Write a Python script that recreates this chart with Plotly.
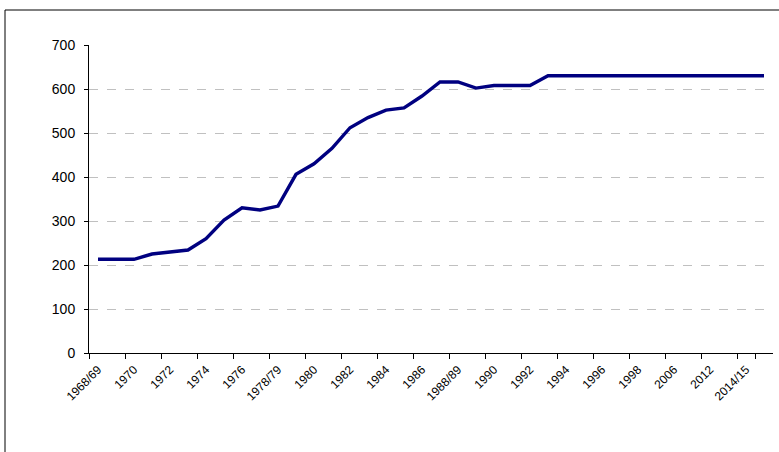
import plotly.graph_objects as go

categories = [
    "1968/69", "1969", "1970", "1971", "1972", "1973", "1974", "1975", "1976", "1977",
    "1978/79", "1979", "1980", "1981", "1982", "1983", "1984", "1985", "1986", "1987",
    "1988/89", "1989", "1990", "1991", "1992", "1993", "1994", "1995", "1996", "1997",
    "1998", "2002", "2006", "2009", "2012", "2013", "2014/15", "2015/16",
]
values = [
    213, 213, 213, 225, 229, 234, 260, 302, 330, 325,
    334, 406, 430, 465, 512, 535, 552, 557, 584, 616,
    616, 602, 608, 608, 608, 630, 630, 630, 630, 630,
    630, 630, 630, 630, 630, 630, 630, 630,
]
y_ticks = [0, 100, 200, 300, 400, 500, 600, 700]

fig = go.Figure()
fig.add_trace(go.Scatter(
    x=categories, y=values, mode="lines",
    line=dict(color="#000080", width=3.4),
    hoverinfo="skip",
))

L, R, T, B = 89, 773, 45, 353
W, H = 779, 452

def px(xp):
    return (xp - L) / (R - L)

def py(yp):
    return (B - yp) / (B - T)

fig.update_layout(
    width=W, height=H,
    margin=dict(l=L, r=W - R, t=T, b=H - B),
    paper_bgcolor="white", plot_bgcolor="white",
    showlegend=False,
    font=dict(family="Liberation Sans, Arial, sans-serif", color="black"),
    shapes=[
        dict(type="line", xref="paper", yref="paper",
             x0=px(5), x1=px(5), y0=py(10), y1=py(460),
             line=dict(color="black", width=1)),
        dict(type="line", xref="paper", yref="paper",
             x0=px(5), x1=px(790), y0=py(10), y1=py(10),
             line=dict(color="black", width=1)),
    ],
)

fig.update_xaxes(
    type="category",
    categoryorder="array", categoryarray=categories,
    range=[-0.5, len(categories) - 0.5],
    tickmode="array",
    tickvals=categories[::2],
    ticktext=categories[::2],
    tickson="boundaries",
    ticks="outside", ticklen=5, tickcolor="black", tickwidth=1,
    showline=True, linecolor="black", linewidth=1,
    showgrid=False, zeroline=False,
    tickangle=-45,
    tickfont=dict(size=12, color="black"),
    ticklabelstandoff=4,
)

fig.update_yaxes(
    range=[0, 700],
    tickmode="array", tickvals=y_ticks,
    ticks="outside", ticklen=4, tickcolor="black",
    showline=True, linecolor="black", linewidth=1,
    showgrid=True, gridcolor="#c0c0c0", griddash="dash", gridwidth=1,
    zeroline=False,
    tickfont=dict(size=14, color="black"),
    ticklabelstandoff=6,
)

fig.write_html(
    "out.html",
    config={"displayModeBar": False, "staticPlot": True},
    post_script="document.body.style.margin='0';document.body.style.overflow='hidden';",
)
